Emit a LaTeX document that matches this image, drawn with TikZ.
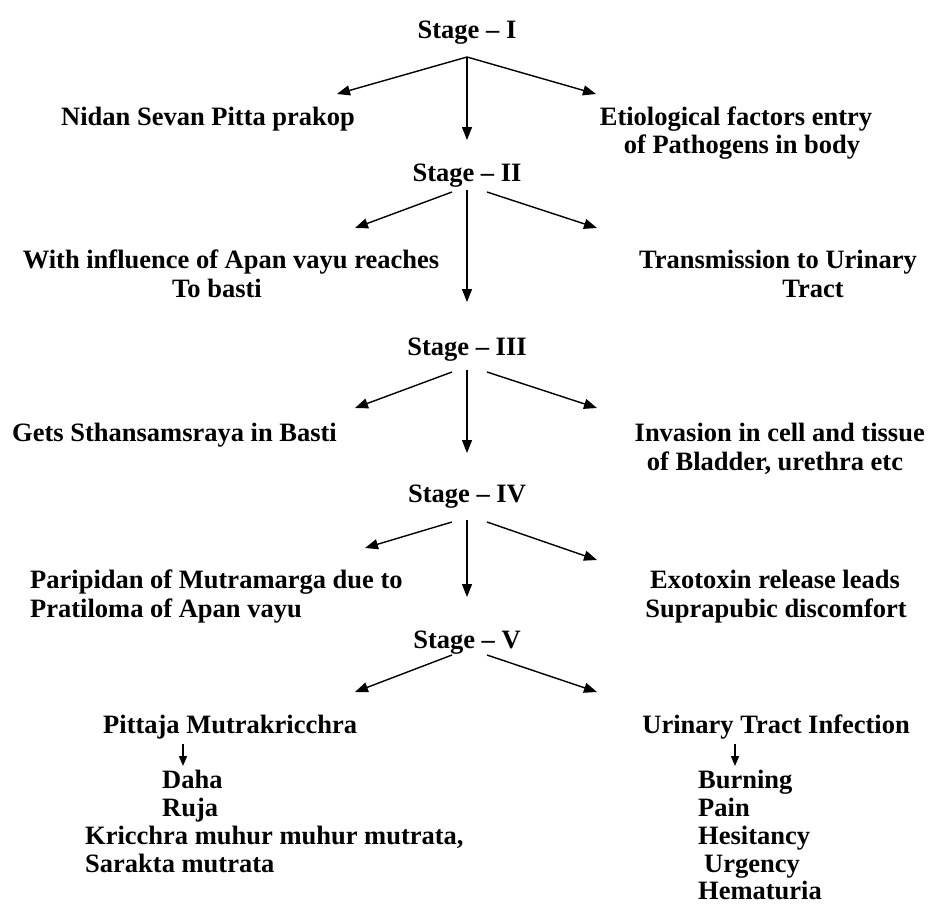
\documentclass[tikz,border=0pt]{standalone}
\usepackage{fontspec}
\setmainfont{Liberation Serif}
\usetikzlibrary{arrows.meta}
\begin{document}
\begin{tikzpicture}[x=1pt,y=-1pt,
  lbl/.style={inner sep=0pt,font=\bfseries\fontsize{26.5}{29}\selectfont,text=black},
  arr/.style={line width=1.4pt,-{Triangle[length=13pt,width=10pt]}},
  sarr/.style={line width=1.4pt,-{Triangle[length=10pt,width=8pt]}}]
\useasboundingbox (0,0) rectangle (929,906);
% stage labels
\node[lbl,anchor=base] (s1) at (467,38) {Stage – I};
\node[lbl,anchor=base] (s2) at (467,181) {Stage – II};
\node[lbl,anchor=base] (s3) at (467,355) {Stage – III};
\node[lbl,anchor=base] (s4) at (467,502) {Stage – IV};
\node[lbl,anchor=base] (s5) at (467,648) {Stage – V};
% stage I
\node[lbl,anchor=base west] (a1) at (61,125) {Nidan Sevan Pitta prakop};
\node[lbl,anchor=base] (b1) at (736,125) {Etiological factors entry};
\node[lbl,anchor=base] (b1b) at (742,153) {of Pathogens in body};
% stage II
\node[lbl,anchor=base] (a2) at (231,268) {With influence of Apan vayu reaches};
\node[lbl,anchor=base] (a2b) at (217,297) {To basti};
\node[lbl,anchor=base east] (b2) at (917,268) {Transmission to Urinary};
\node[lbl,anchor=base] (b2b) at (813,297) {Tract};
% stage III
\node[lbl,anchor=base west] (a3) at (12,441) {Gets Sthansamsraya in Basti};
\node[lbl,anchor=base east] (b3) at (925,441) {Invasion in cell and tissue};
\node[lbl,anchor=base] (b3b) at (775,470) {of Bladder, urethra etc};
% stage IV
\node[lbl,anchor=base west] (a4) at (30,588) {Paripidan of Mutramarga due to};
\node[lbl,anchor=base west] (a4b) at (30,617) {Pratiloma of Apan vayu};
\node[lbl,anchor=base] (b4) at (775,588) {Exotoxin release leads};
\node[lbl,anchor=base] (b4b) at (776,617) {Suprapubic discomfort};
% stage V
\node[lbl,anchor=base west] (a5) at (103,733) {Pittaja Mutrakricchra};
\node[lbl,anchor=base east] (b5) at (910,733) {Urinary Tract Infection};
\node[lbl,anchor=base west] (l1) at (162,788) {Daha};
\node[lbl,anchor=base west] (l2) at (162,816) {Ruja};
\node[lbl,anchor=base west] (l3) at (85,844) {Kricchra muhur muhur mutrata,};
\node[lbl,anchor=base west] (l4) at (85,872) {Sarakta mutrata};
\node[lbl,anchor=base west] (r1) at (698,788) {Burning};
\node[lbl,anchor=base west] (r2) at (698,816) {Pain};
\node[lbl,anchor=base west] (r3) at (698,844) {Hesitancy};
\node[lbl,anchor=base west] (r4) at (704,872) {Urgency};
\node[lbl,anchor=base west] (r5) at (698,899) {Hematuria};
% arrow coordinates
\coordinate (p1) at (467,57);
\coordinate (t1l) at (337,94);
\coordinate (t1r) at (596,94);
\coordinate (t1c) at (467,140);
\coordinate (p2l) at (452,192); \coordinate (p2c) at (467,190); \coordinate (p2r) at (487,192);
\coordinate (t2l) at (355,228); \coordinate (t2c) at (467,302); \coordinate (t2r) at (597,228);
\coordinate (p3l) at (452,372); \coordinate (p3c) at (467,370); \coordinate (p3r) at (487,372);
\coordinate (t3l) at (355,408); \coordinate (t3c) at (467,453); \coordinate (t3r) at (597,408);
\coordinate (p4l) at (452,522); \coordinate (p4c) at (467,520); \coordinate (p4r) at (487,522);
\coordinate (t4l) at (365,548); \coordinate (t4c) at (467,597); \coordinate (t4r) at (597,560);
\coordinate (p5l) at (452,655); \coordinate (p5r) at (487,655);
\coordinate (t5l) at (355,692); \coordinate (t5r) at (597,692);
\coordinate (ql) at (183,744); \coordinate (ul) at (183,766);
\coordinate (qr) at (735,744); \coordinate (ur) at (735,766);
% arrows
\draw[arr] (p1) -- (t1l);
\draw[arr] (p1) -- (t1r);
\draw[arr] (p1) -- (t1c);
\draw[arr] (p2l) -- (t2l);
\draw[arr] (p2c) -- (t2c);
\draw[arr] (p2r) -- (t2r);
\draw[arr] (p3l) -- (t3l);
\draw[arr] (p3c) -- (t3c);
\draw[arr] (p3r) -- (t3r);
\draw[arr] (p4l) -- (t4l);
\draw[arr] (p4c) -- (t4c);
\draw[arr] (p4r) -- (t4r);
\draw[arr] (p5l) -- (t5l);
\draw[arr] (p5r) -- (t5r);
\draw[sarr] (ql) -- (ul);
\draw[sarr] (qr) -- (ur);
\end{tikzpicture}
\end{document}
